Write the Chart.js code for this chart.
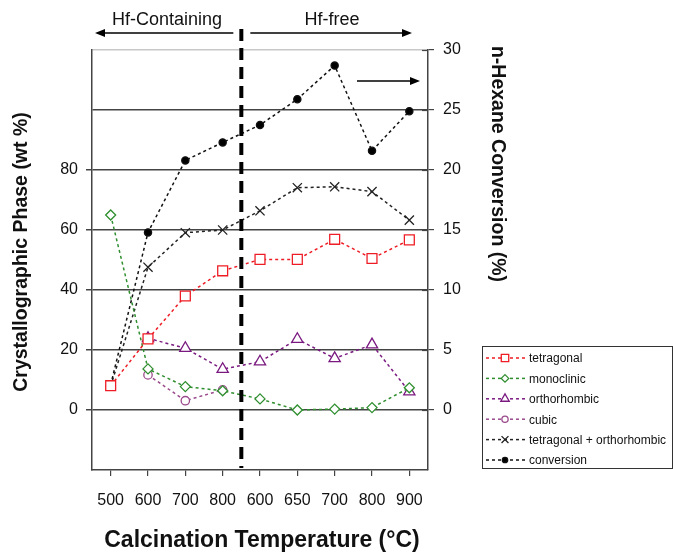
<!DOCTYPE html>
<html><head><meta charset="utf-8">
<script src="https://cdn.jsdelivr.net/npm/chart.js@4"></script>
<style>html,body{margin:0;padding:0;background:#fff}#wrap{width:673px;height:553px}</style>
</head><body><div id="wrap"><canvas id="c" width="673" height="553"></canvas></div>
<script>
const categories = ['500','600','700','800','600','650','700','800','900'];
const tetragonal = [8.1, 23.7, 38, 46.4, 50.2, 50.2, 56.9, 50.5, 56.7];
const monoclinic = [65, 13.7, 7.8, 6.4, 3.7, 0, 0.3, 0.8, 7.4];
const orthorhombic = [null, 23.9, 20.6, 13.6, 16.1, 23.6, 17.2, 21.8, 6.1];
const cubic = [null, 11.7, 3.1, 6.7, null, null, null, null, null];
const tetraOrtho = [8, 47.6, 59.1, 60, 66.4, 74.1, 74.4, 72.8, 63.3];
const conversion = [2.1, 14.8, 20.8, 22.3, 23.75, 25.9, 28.7, 21.6, 24.9];
const leftTicks = [0, 20, 40, 60, 80];
const rightTicks = [0, 5, 10, 15, 20, 25, 30];
const regionLabels = ['Hf-Containing', 'Hf-free'];

const FONT = "'Liberation Sans', Arial, sans-serif";
const GRID = '#444';

function ds(label, data, color, style, radius, fill, axis) {
  return {
    label, data, yAxisID: axis || 'y',
    borderColor: color, backgroundColor: fill || '#fff',
    pointBorderColor: color, pointBackgroundColor: fill || '#fff',
    pointStyle: style, pointRadius: radius, pointHoverRadius: radius,
    pointBorderWidth: 1.3, borderWidth: 1.5, borderDash: [3, 3],
    tension: 0, spanGaps: false, fill: false
  };
}

function marker(ctx, style, x, y, r, stroke, fill) {
  ctx.save();
  ctx.strokeStyle = stroke; ctx.fillStyle = fill; ctx.lineWidth = 1.3; ctx.setLineDash([]);
  ctx.beginPath();
  if (style === 'rect') { const s = r * Math.SQRT1_2; ctx.rect(x - s, y - s, 2 * s, 2 * s); ctx.fill(); ctx.stroke(); }
  else if (style === 'rectRot') { ctx.moveTo(x, y - r); ctx.lineTo(x + r, y); ctx.lineTo(x, y + r); ctx.lineTo(x - r, y); ctx.closePath(); ctx.fill(); ctx.stroke(); }
  else if (style === 'triangle') { ctx.moveTo(x, y - r); ctx.lineTo(x + r * 0.866, y + r * 0.5); ctx.lineTo(x - r * 0.866, y + r * 0.5); ctx.closePath(); ctx.fill(); ctx.stroke(); }
  else if (style === 'circle') { ctx.arc(x, y, r, 0, Math.PI * 2); ctx.fill(); ctx.stroke(); }
  else if (style === 'crossRot') { const s = r * Math.SQRT1_2; ctx.moveTo(x - s, y - s); ctx.lineTo(x + s, y + s); ctx.moveTo(x + s, y - s); ctx.lineTo(x - s, y + s); ctx.stroke(); }
  ctx.restore();
}

function arrow(ctx, x1, y, x2) {
  const dir = Math.sign(x2 - x1);
  ctx.save();
  ctx.strokeStyle = '#000'; ctx.fillStyle = '#000'; ctx.lineWidth = 1.3; ctx.setLineDash([]);
  ctx.beginPath(); ctx.moveTo(x1, y); ctx.lineTo(x2 - dir * 8, y); ctx.stroke();
  ctx.beginPath(); ctx.moveTo(x2, y); ctx.lineTo(x2 - dir * 10, y - 4); ctx.lineTo(x2 - dir * 10, y + 4); ctx.closePath(); ctx.fill();
  ctx.restore();
}

const overlay = {
  id: 'overlay',
  afterDatasetsDraw(chart) {
    const ctx = chart.ctx, x = chart.scales.x, y1 = chart.scales.y1, a = chart.chartArea;
    // inward part of right-axis tick marks
    ctx.save();
    ctx.strokeStyle = GRID; ctx.lineWidth = 1.2;
    rightTicks.forEach(v => {
      const py = Math.round(y1.getPixelForValue(v)) + 0.5;
      ctx.beginPath(); ctx.moveTo(a.right - 6, py); ctx.lineTo(a.right, py); ctx.stroke();
    });
    ctx.restore();
    const xm = (x.getPixelForTick(3) + x.getPixelForTick(4)) / 2;
    ctx.save();
    ctx.strokeStyle = '#000'; ctx.lineWidth = 4; ctx.setLineDash([12, 7]);
    ctx.beginPath(); ctx.moveTo(xm, 29); ctx.lineTo(xm, a.bottom - 2); ctx.stroke();
    ctx.restore();
    arrow(ctx, 357, 81, 420);
  },
  afterDraw(chart) {
    const ctx = chart.ctx, x = chart.scales.x;
    const xm = (x.getPixelForTick(3) + x.getPixelForTick(4)) / 2;
    ctx.save();
    ctx.fillStyle = '#111'; ctx.textAlign = 'center'; ctx.textBaseline = 'middle';
    ctx.font = '18px ' + FONT;
    ctx.fillText(regionLabels[0], 167, 20);
    ctx.fillText(regionLabels[1], 332, 20);
    arrow(ctx, xm - 8, 33, 95);
    arrow(ctx, xm + 9, 33, 412);
    // axis titles
    ctx.font = 'bold 19.5px ' + FONT;
    ctx.save(); ctx.translate(22, 252); ctx.rotate(-Math.PI / 2); ctx.fillText('Crystallographic Phase (wt %)', 0, 0); ctx.restore();
    ctx.save(); ctx.translate(497, 164); ctx.rotate(Math.PI / 2); ctx.fillText('n-Hexane Conversion (%)', 0, 0); ctx.restore();
    ctx.font = 'bold 23px ' + FONT;
    ctx.fillText('Calcination Temperature (°C)', 262, 541);
    // legend
    ctx.strokeStyle = '#333'; ctx.lineWidth = 1; ctx.setLineDash([]);
    ctx.strokeRect(482.5, 346.5, 190, 122);
    ctx.font = '12px ' + FONT; ctx.textAlign = 'left';
    chart.data.datasets.forEach((d, i) => {
      const yy = 358 + i * 20.4;
      ctx.save();
      ctx.strokeStyle = d.borderColor; ctx.lineWidth = 1.5; ctx.setLineDash([3, 3]);
      ctx.beginPath(); ctx.moveTo(486, yy); ctx.lineTo(525, yy); ctx.stroke();
      ctx.restore();
      marker(ctx, d.pointStyle, 505, yy, d.pointRadius * 0.75, d.pointBorderColor, d.pointBackgroundColor);
      ctx.fillStyle = '#111';
      ctx.fillText(d.label, 529, yy + 1);
    });
    ctx.restore();
  }
};

new Chart(document.getElementById('c'), {
  type: 'line',
  data: {
    labels: categories,
    datasets: [
      ds('tetragonal', tetragonal, '#ee1c25', 'rect', 7),
      ds('monoclinic', monoclinic, '#2f8f2f', 'rectRot', 5),
      ds('orthorhombic', orthorhombic, '#7a1a80', 'triangle', 6.5),
      ds('cubic', cubic, '#9a4a8c', 'circle', 4.2),
      ds('tetragonal + orthorhombic', tetraOrtho, '#222', 'crossRot', 6.5),
      ds('conversion', conversion, '#111', 'circle', 3.6, '#000', 'y1')
    ]
  },
  options: {
    responsive: false, animation: false, devicePixelRatio: 1,
    layout: { padding: { top: 50, left: 0, right: 0, bottom: 0 } },
    plugins: { legend: { display: false }, tooltip: { enabled: false }, title: { display: false } },
    scales: {
      x: {
        type: 'category', offset: true,
        grid: { offset: false, drawOnChartArea: false, drawTicks: true, tickLength: 6, color: GRID, lineWidth: 1.2 },
        border: { display: true, color: GRID, width: 1.5 },
        ticks: { color: '#111', font: { family: FONT, size: 16 }, padding: 15, maxRotation: 0, autoSkip: false },
        afterFit(s) { s.height = 83; }
      },
      y: {
        position: 'left', min: -20, max: 120,
        ticks: { stepSize: 20, color: '#111', padding: 8, font: { family: FONT, size: 16 },
          callback: v => leftTicks.includes(v) ? String(v) : '' },
        grid: {
          lineWidth: 1.5, tickLength: 6,
          color: c => c.tick.value === 120 ? '#c8c8c8' : (c.tick.value === -20 ? 'rgba(0,0,0,0)' : GRID),
          tickColor: c => leftTicks.includes(c.tick.value) ? GRID : 'rgba(0,0,0,0)'
        },
        border: { display: true, color: GRID, width: 1.5 },
        afterFit(s) { s.width = 92; }
      },
      y1: {
        position: 'right', min: -5, max: 30,
        ticks: { stepSize: 5, color: '#111', padding: 9, font: { family: FONT, size: 16 },
          callback: v => rightTicks.includes(v) ? String(v) : '' },
        grid: { drawOnChartArea: false, tickLength: 6, lineWidth: 1.2,
          color: c => rightTicks.includes(c.tick.value) ? GRID : 'rgba(0,0,0,0)' },
        border: { display: true, color: GRID, width: 1.5 },
        afterFit(s) { s.width = 245; }
      }
    }
  },
  plugins: [overlay]
});
</script>
</body></html>
